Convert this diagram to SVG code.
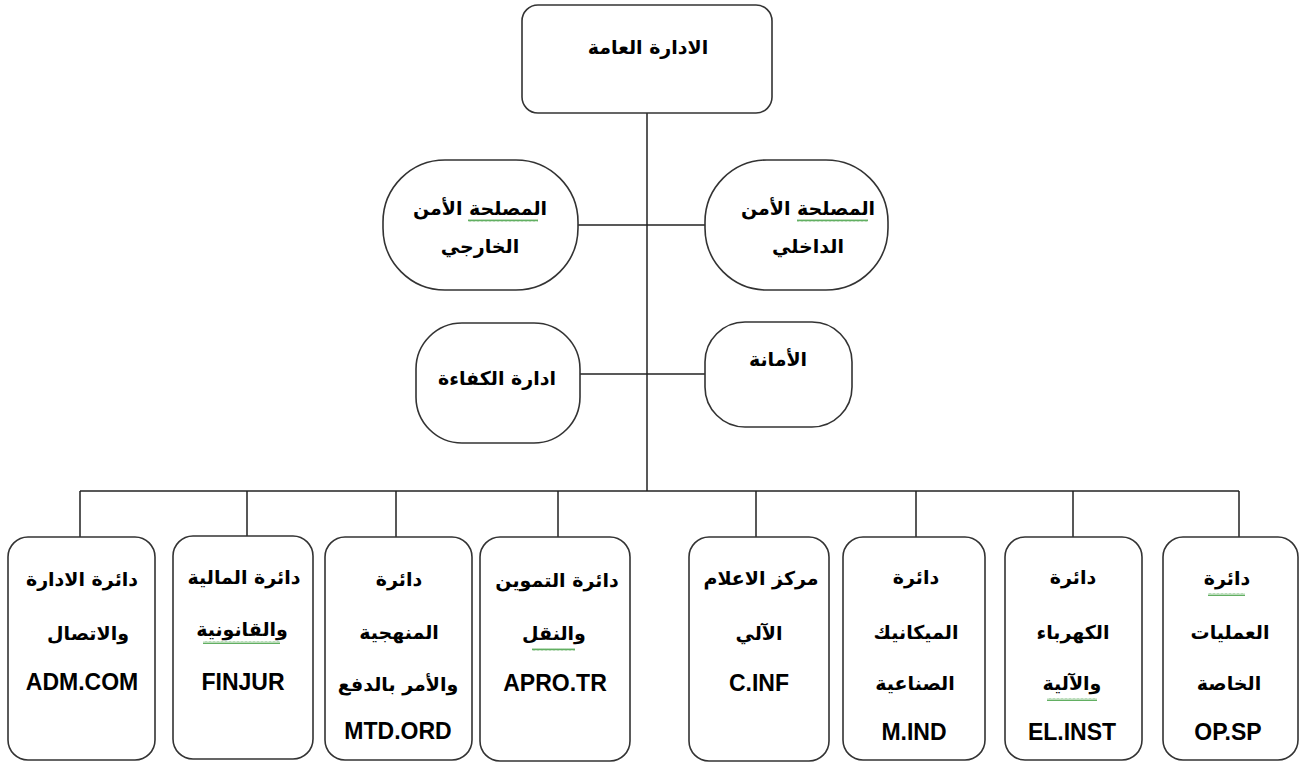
<svg xmlns="http://www.w3.org/2000/svg" width="1301" height="763" viewBox="0 0 1301 763">
<defs>
<pattern id="wavy" width="4" height="3" patternUnits="userSpaceOnUse">
<path d="M0,2.5 L1,0.5 L2,2.5 L3,0.5 L4,2.5" fill="none" stroke="#3a9a3a" stroke-width="0.8"/>
</pattern>
</defs>
<style>
.box{fill:#fff;stroke:#333;stroke-width:1.6}
.ln{fill:none;stroke:#222;stroke-width:1.5}
.ar{font-family:"DejaVu Sans",sans-serif;font-weight:bold;font-size:19px;fill:#000;text-anchor:middle;dominant-baseline:central}
.lt{font-family:"Liberation Sans",Arial,sans-serif;font-weight:bold;font-size:23px;fill:#000;text-anchor:middle;dominant-baseline:central}
.wv{fill:url(#wavy)}
</style>
<rect width="1301" height="763" fill="#fff"/>
<g id="connectors">
<path class="ln" d="M647,113 V491"/>
<path class="ln" d="M578,225 H705"/>
<path class="ln" d="M580,374 H705"/>
<path class="ln" d="M80,491 H1239"/>
<path class="ln" d="M80,491 V538 M247,491 V537 M396,491 V538 M558,491 V538 M756,491 V538 M916,491 V538 M1073,491 V538 M1239,491 V538"/>
</g>
<g id="n-top">
<rect class="box" x="522" y="5" width="250" height="108" rx="16"/>
<text class="ar" x="648" y="47" font-size="22">الادارة العامة</text>
</g>
<g id="n-ext">
<rect class="box" x="383" y="160" width="195" height="130" rx="62"/>
<text class="ar" x="480" y="208">المصلحة الأمن</text>
<text class="ar" x="480" y="246">الخارجي</text>
<rect class="wv" x="468" y="219" width="70" height="3"/>
</g>
<g id="n-int">
<rect class="box" x="705" y="160" width="183" height="130" rx="62"/>
<text class="ar" x="808" y="208">المصلحة الأمن</text>
<text class="ar" x="808" y="246">الداخلي</text>
<rect class="wv" x="797" y="219" width="71" height="3"/>
</g>
<g id="n-comp">
<rect class="box" x="416" y="323" width="164" height="120" rx="46"/>
<text class="ar" x="497" y="378">ادارة  الكفاءة</text>
</g>
<g id="n-sec">
<rect class="box" x="705" y="322" width="147" height="105" rx="40"/>
<text class="ar" x="778" y="359" font-size="21">الأمانة</text>
</g>
<g id="b1">
<rect class="box" x="8" y="537" width="147" height="223" rx="20"/>
<text class="ar" x="82" y="579">دائرة الادارة</text>
<text class="ar" x="88" y="633">والاتصال</text>
<text class="lt" x="82" y="682">ADM.COM</text>
</g>
<g id="b2">
<rect class="box" x="173" y="536" width="140" height="223" rx="20"/>
<text class="ar" x="244" y="577">دائرة المالية</text>
<text class="ar" x="242" y="629">والقانونية</text>
<rect class="wv" x="203" y="641" width="77" height="3"/>
<text class="lt" x="243" y="682">FINJUR</text>
</g>
<g id="b3">
<rect class="box" x="325" y="537" width="147" height="223" rx="20"/>
<text class="ar" x="399" y="579">دائرة</text>
<text class="ar" x="399" y="632">المنهجية</text>
<text class="ar" x="398" y="684">والأمر بالدفع</text>
<text class="lt" x="398" y="731">MTD.ORD</text>
</g>
<g id="b4">
<rect class="box" x="480" y="537" width="150" height="224" rx="20"/>
<text class="ar" x="557" y="580">دائرة التموين</text>
<text class="ar" x="554" y="633">والنقل</text>
<rect class="wv" x="532" y="648" width="43" height="3"/>
<text class="lt" x="555" y="683">APRO.TR</text>
</g>
<g id="b5">
<rect class="box" x="689" y="537" width="140" height="224" rx="20"/>
<text class="ar" x="761" y="578">مركز  الاعلام</text>
<text class="ar" x="759" y="633">الآلي</text>
<text class="lt" x="759" y="683">C.INF</text>
</g>
<g id="b6">
<rect class="box" x="843" y="537" width="142" height="223" rx="20"/>
<text class="ar" x="916" y="577">دائرة</text>
<text class="ar" x="916" y="632">الميكانيك</text>
<text class="ar" x="915" y="683">الصناعية</text>
<text class="lt" x="914" y="732">M.IND</text>
</g>
<g id="b7">
<rect class="box" x="1005" y="537" width="137" height="223" rx="20"/>
<text class="ar" x="1073" y="577">دائرة</text>
<text class="ar" x="1073" y="632">الكهرباء</text>
<text class="ar" x="1072" y="683">والآلية</text>
<rect class="wv" x="1047" y="698" width="50" height="3"/>
<text class="lt" x="1072" y="732">EL.INST</text>
</g>
<g id="b8">
<rect class="box" x="1163" y="537" width="135" height="223" rx="20"/>
<text class="ar" x="1227" y="578">دائرة</text>
<rect class="wv" x="1208" y="593" width="37" height="3"/>
<text class="ar" x="1230" y="632">العمليات</text>
<text class="ar" x="1229" y="683">الخاصة</text>
<text class="lt" x="1228" y="732">OP.SP</text>
</g>
</svg>
